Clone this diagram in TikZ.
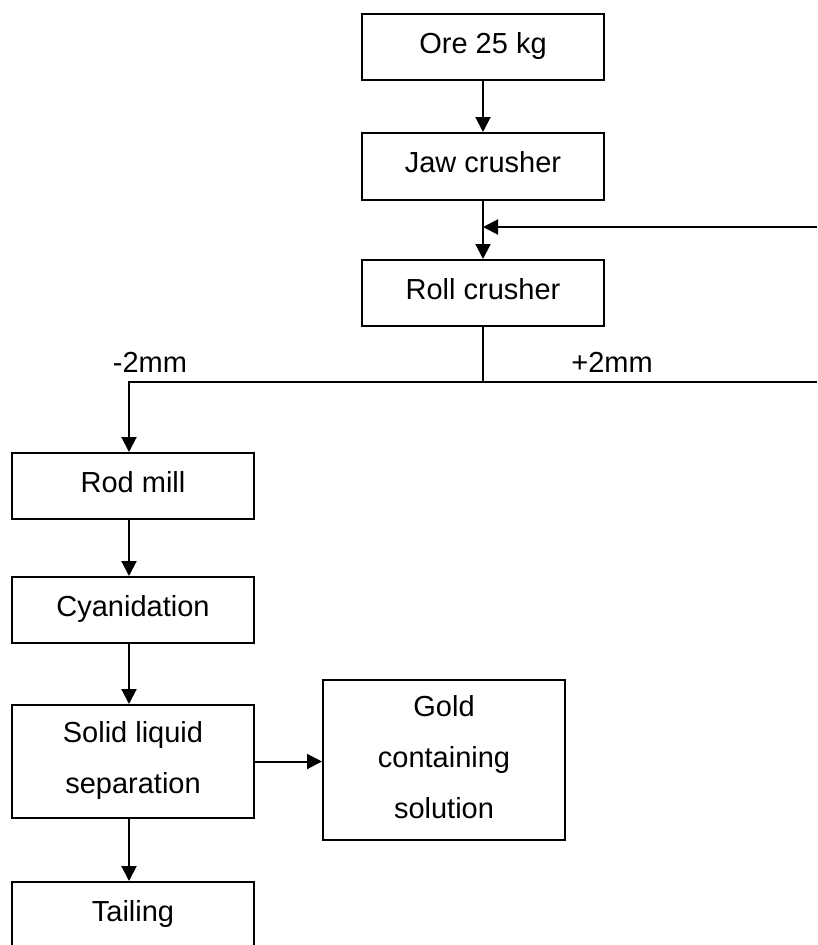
\documentclass[tikz,border=0pt]{standalone}
\usepackage{fontspec}
\setmainfont{Liberation Sans}
\usetikzlibrary{arrows.meta}
\tikzset{
  box/.style={draw=black, line width=2pt, fill=white, minimum width=242pt, inner sep=0pt,
    font=\fontsize{29}{51}\selectfont, align=center},
  one/.style={box, minimum height=66pt, text height=21pt, text depth=9pt},
  flow/.style={line width=2pt, -{Triangle[length=15pt,width=15pt]}},
  plain/.style={line width=2pt},
  lbl/.style={font=\fontsize{29}{35}\selectfont, anchor=base, inner sep=0pt}
}
\begin{document}
\begin{tikzpicture}[x=1pt,y=1pt]
\useasboundingbox (0,0) rectangle (817,-945);
\clip (0,0) rectangle (817,-945);
\node[one] (ore) at (483,-47) {Ore 25 kg};
\node[one, minimum height=67pt] (jaw) at (483,-166.5) {Jaw crusher};
\node[one] (roll) at (483,-293) {Roll crusher};
\node[one] (rod) at (133,-486) {Rod mill};
\node[one] (cyan) at (133,-610) {Cyanidation};
\node[box, minimum height=113pt, text height=84pt, text depth=21pt] (sls) at (133,-761.5) {Solid liquid\\separation};
\node[box, minimum height=160pt, text height=130pt, text depth=14pt] (gold) at (444,-760) {Gold\\containing\\solution};
\node[one] (tail) at (133,-915) {Tailing};
\coordinate (fb) at (817,-227);
\coordinate (sr) at (817,-382);
\coordinate (sl) at (129,-382);
\node[lbl] (minus) at (150,-372) {-2mm};
\node[lbl] (plus) at (612,-372) {+2mm};
\draw[flow] (ore.south) -- (jaw.north);
\draw[flow] (jaw.south) -- (roll.north);
\draw[flow] (fb) -- (jaw.south |- fb);
\draw[plain] (roll.south) -- (roll.south |- sr);
\draw[flow] (sr) -- (sl) -- (sl |- rod.north);
\draw[flow] ([xshift=-4pt]rod.south) -- ([xshift=-4pt]cyan.north);
\draw[flow] ([xshift=-4pt]cyan.south) -- ([xshift=-4pt]sls.north);
\draw[flow] ([xshift=-4pt]sls.south) -- ([xshift=-4pt]tail.north);
\draw[flow] (sls.east) -- (gold.west |- sls.east);
\end{tikzpicture}
\end{document}
